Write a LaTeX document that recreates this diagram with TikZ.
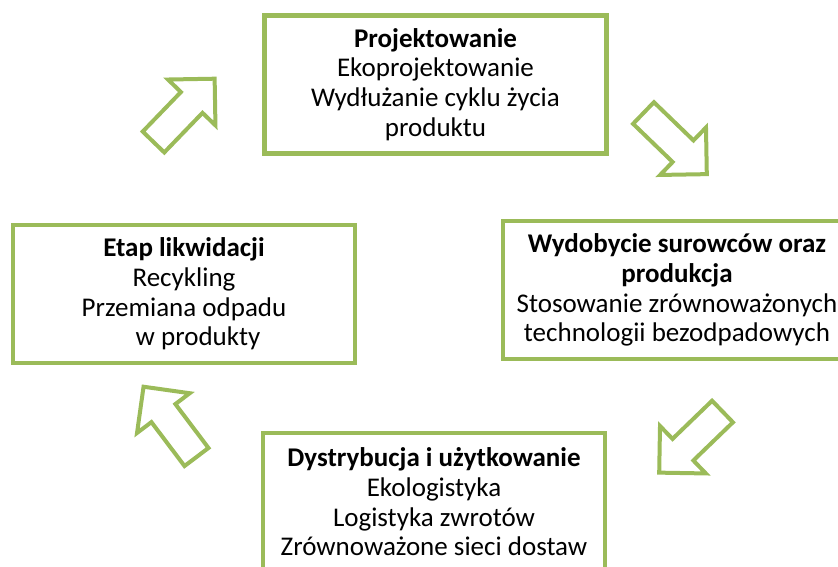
\documentclass[tikz,border=0pt]{standalone}
\usepackage{tikz}
\usepackage{fontspec}
\setmainfont{Carlito}

\definecolor{leafgreen}{HTML}{9BBB59}
\tikzset{
  stage/.style={draw=leafgreen,line width=4.5pt,fill=white,align=center,
    minimum width=342pt,minimum height=138pt,inner sep=0pt,
    font=\fontsize{27}{29.7}\selectfont},
  cyclearrow/.pic={
    \draw[leafgreen,line width=4pt] (0,-15) -- (55,-15) -- (55,-33) -- (88,0)
      -- (55,33) -- (55,15) -- (0,15) -- cycle;}
}

\begin{document}
\begin{tikzpicture}[x=1pt,y=-1pt]
      \useasboundingbox (0,0) rectangle (838,566);
      \clip (0,0) rectangle (838,566);

      \node[stage] (design) at (435.5,84.5) {\textbf{Projektowanie}\\Ekoprojektowanie\\Wydłużanie cyklu życia\\produktu};
      \node[stage,minimum width=348pt] (production) at (677,290) {\textbf{Wydobycie surowców oraz}\\\textbf{produkcja}\\Stosowanie zrównoważonych\\technologii bezodpadowych};
      \node[stage] (use) at (434,502) {\textbf{Dystrybucja i użytkowanie}\\Ekologistyka\\Logistyka zwrotów\\Zrównoważone sieci dostaw};
      \node[stage] (disposal) at (184,294) {\textbf{Etap likwidacji}\\Recykling\\Przemiana odpadu\hspace*{20pt}\\\hspace*{28pt}w produkty};

      \pic[rotate=46] at (153.5,142) {cyclearrow};
      \pic[rotate=-44] at (643.5,113) {cyclearrow};
      \pic[rotate=-136] at (722.5,411.5) {cyclearrow};
      \pic[rotate=127] at (196.5,457) {cyclearrow};

    \end{tikzpicture}
\end{document}
